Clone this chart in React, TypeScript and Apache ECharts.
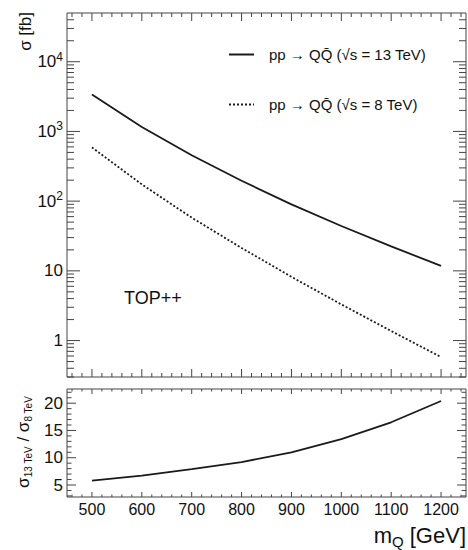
import React, { useEffect, useRef } from "react";
import * as echarts from "echarts";

// Heavy-quark pair production cross sections (Top++) vs. quark mass
const massPoints = [500, 600, 700, 800, 900, 1000, 1100, 1200];
const xsec13TeV = [3380, 1160, 455, 196, 90, 44, 22.4, 11.8];
const xsec8TeV = [590, 174, 58, 21.3, 8.2, 3.3, 1.37, 0.58];
const ratio13over8 = [5.8, 6.7, 7.9, 9.2, 11.0, 13.4, 16.5, 20.4];

// Axis ticks
const massTicks = [500, 600, 700, 800, 900, 1000, 1100, 1200];
const ratioTicks = [5, 10, 15, 20];

const name13 = "pp \u2192 QQ\u0304 (\u221As = 13 TeV)";
const name8 = "pp \u2192 QQ\u0304 (\u221As = 8 TeV)";

const X_MIN = 450;
const X_MAX = 1250;
const SIGMA_MIN = 0.3;
const SIGMA_MAX = 50000;
const RATIO_MIN = 2.8;
const RATIO_MAX = 22.6;

const FONT = "'Liberation Sans', Arial, Helvetica, sans-serif";
const INK = "#111";
const FRAME = "#444";

type Tick = [number, number]; // [value, 1 = major | 0 = minor]

function massTickList(): Tick[] {
  const out: Tick[] = [];
  for (let v = 460; v < X_MAX; v += 20) {
    out.push([v, massTicks.includes(v) ? 1 : 0]);
  }
  return out;
}

function sigmaTickList(): Tick[] {
  const out: Tick[] = [];
  for (let d = -1; d <= 4; d++) {
    for (let k = 1; k <= 9; k++) {
      const v = k * Math.pow(10, d);
      if (v >= SIGMA_MIN * 0.999 && v < SIGMA_MAX * 0.999) out.push([v, k === 1 ? 1 : 0]);
    }
  }
  return out;
}

function ratioTickList(): Tick[] {
  const out: Tick[] = [];
  for (let v = 3; v <= 22; v++) out.push([v, ratioTicks.includes(v) ? 1 : 0]);
  return out;
}

const tickStyle = { stroke: FRAME, lineWidth: 1 };

// Ticks along the horizontal edges (bottom and top) of a grid
function xTicks(grid: number, ticks: Tick[], yRef: number, major: number, minor: number) {
  return {
    type: "custom",
    xAxisIndex: grid,
    yAxisIndex: grid,
    silent: true,
    clip: false,
    z: 5,
    data: ticks.map(([v, m]) => [v, yRef, m]),
    encode: { x: 0, y: 1 },
    renderItem: (params: any, api: any) => {
      const cs = params.coordSys;
      const x = api.coord([api.value(0), yRef])[0];
      const len = api.value(2) ? major : minor;
      const top = cs.y;
      const bottom = cs.y + cs.height;
      return {
        type: "group",
        children: [
          { type: "line", shape: { x1: x, y1: bottom, x2: x, y2: bottom - len }, style: tickStyle },
          { type: "line", shape: { x1: x, y1: top, x2: x, y2: top + len }, style: tickStyle },
        ],
      };
    },
  };
}

// Ticks along the vertical edges (left and right) of a grid
function yTicks(grid: number, ticks: Tick[], xRef: number, major: number, minor: number) {
  return {
    type: "custom",
    xAxisIndex: grid,
    yAxisIndex: grid,
    silent: true,
    clip: false,
    z: 5,
    data: ticks.map(([v, m]) => [xRef, v, m]),
    encode: { x: 0, y: 1 },
    renderItem: (params: any, api: any) => {
      const cs = params.coordSys;
      const y = api.coord([xRef, api.value(1)])[1];
      const len = api.value(2) ? major : minor;
      const left = cs.x;
      const right = cs.x + cs.width;
      return {
        type: "group",
        children: [
          { type: "line", shape: { x1: left, y1: y, x2: left + len, y2: y }, style: tickStyle },
          { type: "line", shape: { x1: right, y1: y, x2: right - len, y2: y }, style: tickStyle },
        ],
      };
    },
  };
}

function isMultiple(v: number, step: number) {
  return Math.abs(v - Math.round(v / step) * step) < 1e-6;
}

export default function App() {
  const ref = useRef<HTMLDivElement>(null);

  useEffect(() => {
    if (!ref.current) return;
    const chart = echarts.init(ref.current, undefined, { renderer: "svg" });

    const labelFont = { fontFamily: FONT, color: INK, fontSize: 16 };

    const option: any = {
      animation: false,
      backgroundColor: "#fff",
      grid: [
        { left: 67, top: 13, width: 399, height: 364, show: true, borderColor: FRAME, borderWidth: 1, backgroundColor: "transparent" },
        { left: 67, top: 389, width: 399, height: 108, show: true, borderColor: FRAME, borderWidth: 1, backgroundColor: "transparent" },
      ],
      xAxis: [
        {
          gridIndex: 0, type: "value", min: X_MIN, max: X_MAX, interval: 50,
          axisLine: { show: false }, axisTick: { show: false }, splitLine: { show: false },
          axisLabel: { show: false },
        },
        {
          gridIndex: 1, type: "value", min: X_MIN, max: X_MAX, interval: 50,
          axisLine: { show: false }, axisTick: { show: false }, splitLine: { show: false },
          axisLabel: {
            ...labelFont,
            margin: 4,
            showMinLabel: false,
            showMaxLabel: false,
            formatter: (v: number) => (isMultiple(v, 100) ? String(v) : ""),
          },
        },
      ],
      yAxis: [
        {
          gridIndex: 0, type: "log", logBase: 10, min: SIGMA_MIN, max: SIGMA_MAX,
          axisLine: { show: false }, axisTick: { show: false }, splitLine: { show: false },
          axisLabel: {
            margin: 4,
            formatter: (v: number) => {
              const l = Math.log10(v);
              const e = Math.round(l);
              if (Math.abs(l - e) > 1e-6) return "";
              if (e === 0) return "{b|1}";
              if (e === 1) return "{b|10}";
              return `{b|10}{sup|${e}}`;
            },
            rich: {
              b: { ...labelFont, fontSize: 17 },
              sup: { fontFamily: FONT, color: INK, fontSize: 12, padding: [0, 0, 10, 0] },
            },
          },
        },
        {
          gridIndex: 1, type: "value", min: RATIO_MIN, max: RATIO_MAX, splitNumber: 4,
          axisLine: { show: false }, axisTick: { show: false }, splitLine: { show: false },
          axisLabel: {
            ...labelFont,
            fontSize: 17,
            margin: 4,
            formatter: (v: number) => (ratioTicks.some((t) => Math.abs(t - v) < 1e-6) ? String(Math.round(v)) : ""),
          },
        },
      ],
      legend: {
        orient: "vertical",
        left: 223,
        top: 42,
        itemWidth: 25,
        itemHeight: 14,
        itemGap: 35,
        data: [name13, name8],
        itemStyle: { opacity: 0 },
        textStyle: { fontFamily: FONT, color: INK, fontSize: 15, padding: [0, 0, 0, 10] },
      },
      graphic: [
        {
          type: "text", left: 124, top: 289,
          style: { text: "TOP++", fontFamily: FONT, fontSize: 18, fill: INK },
        },
        {
          type: "text", x: 25, y: 12, rotation: Math.PI / 2,
          style: { text: "\u03C3 [fb]", fontFamily: FONT, fontSize: 17, fill: INK, align: "right", verticalAlign: "middle" },
        },
        {
          type: "text", x: 23, y: 442, rotation: Math.PI / 2,
          style: {
            text: "{s|\u03C3}{sub|13 TeV}{s| / \u03C3}{sub|8 TeV}",
            align: "center", verticalAlign: "middle",
            rich: {
              s: { fontFamily: FONT, fontSize: 17, fill: INK },
              sub: { fontFamily: FONT, fontSize: 10, fill: INK, padding: [10, 0, 0, 0] },
            },
          },
        },
        {
          type: "text", x: 466, y: 535,
          style: {
            text: "{m|m}{sub|Q}{m| [GeV]}",
            align: "right", verticalAlign: "middle",
            rich: {
              m: { fontFamily: FONT, fontSize: 22, fill: INK },
              sub: { fontFamily: FONT, fontSize: 15, fill: INK, padding: [12, 0, 0, 0] },
            },
          },
        },
      ],
      series: [
        {
          name: name13, type: "line", xAxisIndex: 0, yAxisIndex: 0, symbol: "none",
          data: massPoints.map((m, i) => [m, xsec13TeV[i]]),
          lineStyle: { color: "#1a1a1a", width: 1.8, type: "solid" },
          itemStyle: { color: "#1a1a1a" },
        },
        {
          name: name8, type: "line", xAxisIndex: 0, yAxisIndex: 0, symbol: "none",
          data: massPoints.map((m, i) => [m, xsec8TeV[i]]),
          lineStyle: { color: "#1a1a1a", width: 1.8, type: [2, 2] },
          itemStyle: { color: "#1a1a1a" },
        },
        {
          type: "line", xAxisIndex: 1, yAxisIndex: 1, symbol: "none",
          data: massPoints.map((m, i) => [m, ratio13over8[i]]),
          lineStyle: { color: "#1a1a1a", width: 1.8 },
          itemStyle: { color: "#1a1a1a" },
        },
        xTicks(0, massTickList(), 1, 8, 4),
        yTicks(0, sigmaTickList(), 500, 13, 7),
        xTicks(1, massTickList(), 10, 5, 2.5),
        yTicks(1, ratioTickList(), 500, 9, 4.5),
      ],
    };

    chart.setOption(option);
    return () => chart.dispose();
  }, []);

  return (
    <div
      ref={ref}
      style={{ position: "absolute", left: 0, top: 0, width: 468, height: 550 }}
    />
  );
}
